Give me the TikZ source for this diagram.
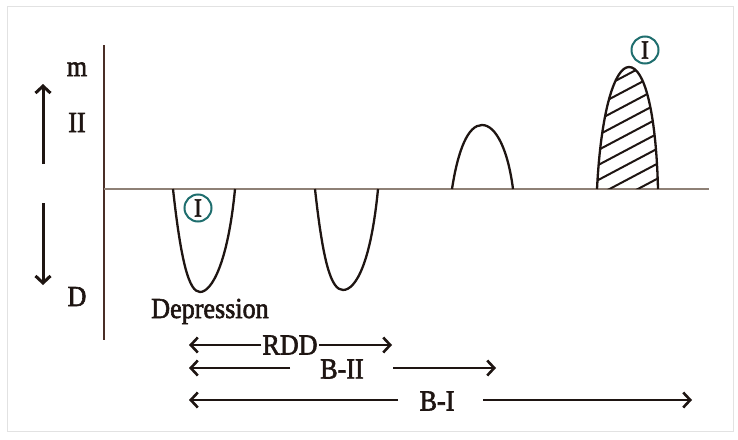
\documentclass[tikz,border=0pt]{standalone}
\usepackage{fontspec}
\setmainfont{Liberation Serif}[FakeStretch=0.9,FakeBold=2]
\usetikzlibrary{arrows.meta}
\definecolor{axisbrown}{HTML}{4A2E26}
\definecolor{basegray}{HTML}{8E8076}
\definecolor{tealc}{HTML}{1F6E6E}
\definecolor{framegray}{HTML}{E2E2E2}
\definecolor{inkc}{HTML}{1E1512}
\begin{document}
\begin{tikzpicture}[x=1pt,y=-1pt,
  lbl/.style={font=\fontsize{29}{29}\selectfont, inner sep=0pt, anchor=base, text=inkc},
  dlbl/.style={font=\fontsize{29}{29}\selectfont, inner sep=0pt, anchor=center, text=inkc},
  curve/.style={line width=2.3pt, draw=inkc},
  dim/.style={line width=2.6pt, draw=inkc, -{Straight Barb[length=7pt,width=15pt]}},
  circI/.style={circle, draw=tealc, line width=2pt, minimum size=27pt, inner sep=0pt, text=inkc, font=\fontsize{26}{26}\selectfont}]
\useasboundingbox (0,0) rectangle (738,439);
\draw[framegray, line width=1pt] (7,6) rectangle (733,431);

% axes
\coordinate (at) at (104,45);
\coordinate (ab) at (104,340);
\draw[axisbrown, line width=2.2pt] (at) -- (ab);
\coordinate (bl) at (104,189);
\coordinate (br) at (709,189);
\draw[basegray, line width=2.6pt] (bl) -- (br);

% side labels and arrows
\node[lbl] (m) at (77,76) {m};
\node[lbl] (II) at (77,132) {II};
\node[lbl] (D) at (77,306) {D};
\coordinate (u1) at (43,164);
\coordinate (u2) at (43,84);
\coordinate (d1) at (43,203);
\coordinate (d2) at (43,285);
\draw[dim, line width=3pt] (u1) -- (u2);
\draw[dim, line width=3pt] (d1) -- (d2);

% depressions
\draw[curve] (173,189) .. controls (181,262) and (189,292) .. (200,292)
  .. controls (212,292) and (228,262) .. (235,189);
\draw[curve] (315,189) .. controls (323,262) and (331,290) .. (343,290)
  .. controls (356,290) and (371,262) .. (378,189);
\node[circI] (c1) at (198,208) {I};
\node[lbl] (dep) at (210,318) {Depression};

% hills
\draw[curve] (452,189) .. controls (458,150) and (468,125) .. (482,125)
  .. controls (496,125) and (508,150) .. (513,189);
\begin{scope}
  \clip (597,189) .. controls (601,110) and (615,67) .. (629,67)
    .. controls (644,67) and (656,110) .. (658,189) -- cycle;
  \foreach \k in {-1,...,11}
    \draw[line width=2pt, inkc] (585,{82+15*\k}) -- ++(85,-45);
\end{scope}
\draw[curve] (597,189) .. controls (601,110) and (615,67) .. (629,67)
  .. controls (644,67) and (656,110) .. (658,189);
\node[circI] (c2) at (645,50) {I};

% dimension arrows
\node[dlbl] (rdd) at (290,345) {RDD};
\coordinate (r1) at (189,345);
\coordinate (r2) at (392,345);
\draw[dim] ([xshift=-1pt]rdd.west) -- (r1);
\draw[dim] ([xshift=1pt]rdd.east) -- (r2);

\node[dlbl] (b2) at (342,369) {B-II};
\coordinate (b2a) at (290,368);
\coordinate (b2b) at (189,368);
\coordinate (b2c) at (393,368);
\coordinate (b2d) at (496,368);
\draw[dim] (b2a) -- (b2b);
\draw[dim] (b2c) -- (b2d);

\node[dlbl] (b1) at (437,401) {B-I};
\coordinate (b1a) at (398,400);
\coordinate (b1b) at (189,400);
\coordinate (b1c) at (483,400);
\coordinate (b1d) at (692,400);
\draw[dim] (b1a) -- (b1b);
\draw[dim] (b1c) -- (b1d);
\end{tikzpicture}
\end{document}
